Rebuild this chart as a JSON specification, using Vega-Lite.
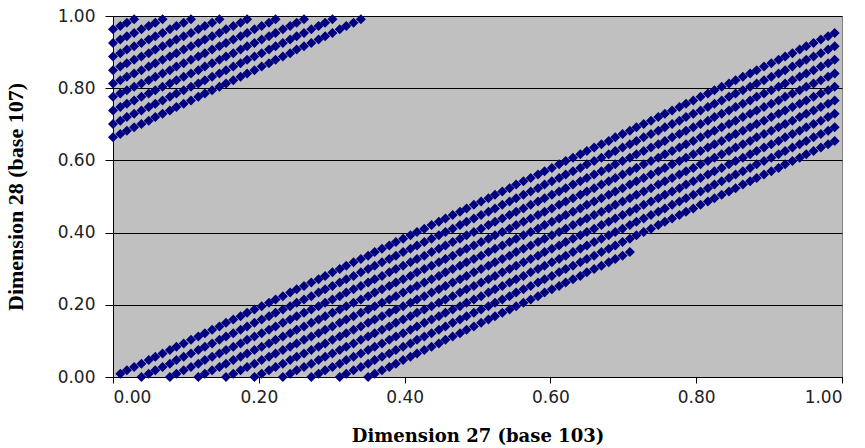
{
"$schema": "https://vega.github.io/schema/vega-lite/v6.json",
"width": 729,
"height": 361,
"autosize": {"type": "none"},
"padding": {"left": 113, "top": 16, "right": 23, "bottom": 71},
"background": "white",
"config": {"view": {"fill": "#C0C0C0", "stroke": "#808080", "strokeWidth": 1}},
"data": {"values": [
{"x":0.010,"y":0.009},{"x":0.019,"y":0.019},{"x":0.029,"y":0.028},{"x":0.039,"y":0.037},{"x":0.049,"y":0.047},{"x":0.058,"y":0.056},{"x":0.068,"y":0.065},{"x":0.078,"y":0.075},{"x":0.087,"y":0.084},{"x":0.097,"y":0.093},
{"x":0.107,"y":0.103},{"x":0.117,"y":0.112},{"x":0.126,"y":0.121},{"x":0.136,"y":0.131},{"x":0.146,"y":0.140},{"x":0.155,"y":0.150},{"x":0.165,"y":0.159},{"x":0.175,"y":0.168},{"x":0.184,"y":0.178},{"x":0.194,"y":0.187},
{"x":0.204,"y":0.196},{"x":0.214,"y":0.206},{"x":0.223,"y":0.215},{"x":0.233,"y":0.224},{"x":0.243,"y":0.234},{"x":0.252,"y":0.243},{"x":0.262,"y":0.252},{"x":0.272,"y":0.262},{"x":0.282,"y":0.271},{"x":0.291,"y":0.280},
{"x":0.301,"y":0.290},{"x":0.311,"y":0.299},{"x":0.320,"y":0.308},{"x":0.330,"y":0.318},{"x":0.340,"y":0.327},{"x":0.350,"y":0.336},{"x":0.359,"y":0.346},{"x":0.369,"y":0.355},{"x":0.379,"y":0.364},{"x":0.388,"y":0.374},
{"x":0.398,"y":0.383},{"x":0.408,"y":0.393},{"x":0.417,"y":0.402},{"x":0.427,"y":0.411},{"x":0.437,"y":0.421},{"x":0.447,"y":0.430},{"x":0.456,"y":0.439},{"x":0.466,"y":0.449},{"x":0.476,"y":0.458},{"x":0.485,"y":0.467},
{"x":0.495,"y":0.477},{"x":0.505,"y":0.486},{"x":0.515,"y":0.495},{"x":0.524,"y":0.505},{"x":0.534,"y":0.514},{"x":0.544,"y":0.523},{"x":0.553,"y":0.533},{"x":0.563,"y":0.542},{"x":0.573,"y":0.551},{"x":0.583,"y":0.561},
{"x":0.592,"y":0.570},{"x":0.602,"y":0.579},{"x":0.612,"y":0.589},{"x":0.621,"y":0.598},{"x":0.631,"y":0.607},{"x":0.641,"y":0.617},{"x":0.650,"y":0.626},{"x":0.660,"y":0.636},{"x":0.670,"y":0.645},{"x":0.680,"y":0.654},
{"x":0.689,"y":0.664},{"x":0.699,"y":0.673},{"x":0.709,"y":0.682},{"x":0.718,"y":0.692},{"x":0.728,"y":0.701},{"x":0.738,"y":0.710},{"x":0.748,"y":0.720},{"x":0.757,"y":0.729},{"x":0.767,"y":0.738},{"x":0.777,"y":0.748},
{"x":0.786,"y":0.757},{"x":0.796,"y":0.766},{"x":0.806,"y":0.776},{"x":0.816,"y":0.785},{"x":0.825,"y":0.794},{"x":0.835,"y":0.804},{"x":0.845,"y":0.813},{"x":0.854,"y":0.822},{"x":0.864,"y":0.832},{"x":0.874,"y":0.841},
{"x":0.883,"y":0.850},{"x":0.893,"y":0.860},{"x":0.903,"y":0.869},{"x":0.913,"y":0.879},{"x":0.922,"y":0.888},{"x":0.932,"y":0.897},{"x":0.942,"y":0.907},{"x":0.951,"y":0.916},{"x":0.961,"y":0.925},{"x":0.971,"y":0.935},
{"x":0.981,"y":0.944},{"x":0.990,"y":0.953},
{"x":0,"y":0.963},{"x":0.010,"y":0.972},{"x":0.019,"y":0.981},{"x":0.029,"y":0.991},
{"x":0.039,"y":0},{"x":0.049,"y":0.009},{"x":0.058,"y":0.019},{"x":0.068,"y":0.028},{"x":0.078,"y":0.037},{"x":0.087,"y":0.047},{"x":0.097,"y":0.056},{"x":0.107,"y":0.065},{"x":0.117,"y":0.075},{"x":0.126,"y":0.084},
{"x":0.136,"y":0.093},{"x":0.146,"y":0.103},{"x":0.155,"y":0.112},{"x":0.165,"y":0.121},{"x":0.175,"y":0.131},{"x":0.184,"y":0.140},{"x":0.194,"y":0.150},{"x":0.204,"y":0.159},{"x":0.214,"y":0.168},{"x":0.223,"y":0.178},
{"x":0.233,"y":0.187},{"x":0.243,"y":0.196},{"x":0.252,"y":0.206},{"x":0.262,"y":0.215},{"x":0.272,"y":0.224},{"x":0.282,"y":0.234},{"x":0.291,"y":0.243},{"x":0.301,"y":0.252},{"x":0.311,"y":0.262},{"x":0.320,"y":0.271},
{"x":0.330,"y":0.280},{"x":0.340,"y":0.290},{"x":0.350,"y":0.299},{"x":0.359,"y":0.308},{"x":0.369,"y":0.318},{"x":0.379,"y":0.327},{"x":0.388,"y":0.336},{"x":0.398,"y":0.346},{"x":0.408,"y":0.355},{"x":0.417,"y":0.364},
{"x":0.427,"y":0.374},{"x":0.437,"y":0.383},{"x":0.447,"y":0.393},{"x":0.456,"y":0.402},{"x":0.466,"y":0.411},{"x":0.476,"y":0.421},{"x":0.485,"y":0.430},{"x":0.495,"y":0.439},{"x":0.505,"y":0.449},{"x":0.515,"y":0.458},
{"x":0.524,"y":0.467},{"x":0.534,"y":0.477},{"x":0.544,"y":0.486},{"x":0.553,"y":0.495},{"x":0.563,"y":0.505},{"x":0.573,"y":0.514},{"x":0.583,"y":0.523},{"x":0.592,"y":0.533},{"x":0.602,"y":0.542},{"x":0.612,"y":0.551},
{"x":0.621,"y":0.561},{"x":0.631,"y":0.570},{"x":0.641,"y":0.579},{"x":0.650,"y":0.589},{"x":0.660,"y":0.598},{"x":0.670,"y":0.607},{"x":0.680,"y":0.617},{"x":0.689,"y":0.626},{"x":0.699,"y":0.636},{"x":0.709,"y":0.645},
{"x":0.718,"y":0.654},{"x":0.728,"y":0.664},{"x":0.738,"y":0.673},{"x":0.748,"y":0.682},{"x":0.757,"y":0.692},{"x":0.767,"y":0.701},{"x":0.777,"y":0.710},{"x":0.786,"y":0.720},{"x":0.796,"y":0.729},{"x":0.806,"y":0.738},
{"x":0.816,"y":0.748},{"x":0.825,"y":0.757},{"x":0.835,"y":0.766},{"x":0.845,"y":0.776},{"x":0.854,"y":0.785},{"x":0.864,"y":0.794},{"x":0.874,"y":0.804},{"x":0.883,"y":0.813},{"x":0.893,"y":0.822},{"x":0.903,"y":0.832},
{"x":0.913,"y":0.841},{"x":0.922,"y":0.850},{"x":0.932,"y":0.860},{"x":0.942,"y":0.869},{"x":0.951,"y":0.879},{"x":0.961,"y":0.888},{"x":0.971,"y":0.897},{"x":0.981,"y":0.907},{"x":0.990,"y":0.916},
{"x":0,"y":0.925},{"x":0.010,"y":0.935},{"x":0.019,"y":0.944},{"x":0.029,"y":0.953},{"x":0.039,"y":0.963},{"x":0.049,"y":0.972},{"x":0.058,"y":0.981},{"x":0.068,"y":0.991},
{"x":0.078,"y":0},{"x":0.087,"y":0.009},{"x":0.097,"y":0.019},{"x":0.107,"y":0.028},{"x":0.117,"y":0.037},{"x":0.126,"y":0.047},{"x":0.136,"y":0.056},{"x":0.146,"y":0.065},{"x":0.155,"y":0.075},{"x":0.165,"y":0.084},
{"x":0.175,"y":0.093},{"x":0.184,"y":0.103},{"x":0.194,"y":0.112},{"x":0.204,"y":0.121},{"x":0.214,"y":0.131},{"x":0.223,"y":0.140},{"x":0.233,"y":0.150},{"x":0.243,"y":0.159},{"x":0.252,"y":0.168},{"x":0.262,"y":0.178},
{"x":0.272,"y":0.187},{"x":0.282,"y":0.196},{"x":0.291,"y":0.206},{"x":0.301,"y":0.215},{"x":0.311,"y":0.224},{"x":0.320,"y":0.234},{"x":0.330,"y":0.243},{"x":0.340,"y":0.252},{"x":0.350,"y":0.262},{"x":0.359,"y":0.271},
{"x":0.369,"y":0.280},{"x":0.379,"y":0.290},{"x":0.388,"y":0.299},{"x":0.398,"y":0.308},{"x":0.408,"y":0.318},{"x":0.417,"y":0.327},{"x":0.427,"y":0.336},{"x":0.437,"y":0.346},{"x":0.447,"y":0.355},{"x":0.456,"y":0.364},
{"x":0.466,"y":0.374},{"x":0.476,"y":0.383},{"x":0.485,"y":0.393},{"x":0.495,"y":0.402},{"x":0.505,"y":0.411},{"x":0.515,"y":0.421},{"x":0.524,"y":0.430},{"x":0.534,"y":0.439},{"x":0.544,"y":0.449},{"x":0.553,"y":0.458},
{"x":0.563,"y":0.467},{"x":0.573,"y":0.477},{"x":0.583,"y":0.486},{"x":0.592,"y":0.495},{"x":0.602,"y":0.505},{"x":0.612,"y":0.514},{"x":0.621,"y":0.523},{"x":0.631,"y":0.533},{"x":0.641,"y":0.542},{"x":0.650,"y":0.551},
{"x":0.660,"y":0.561},{"x":0.670,"y":0.570},{"x":0.680,"y":0.579},{"x":0.689,"y":0.589},{"x":0.699,"y":0.598},{"x":0.709,"y":0.607},{"x":0.718,"y":0.617},{"x":0.728,"y":0.626},{"x":0.738,"y":0.636},{"x":0.748,"y":0.645},
{"x":0.757,"y":0.654},{"x":0.767,"y":0.664},{"x":0.777,"y":0.673},{"x":0.786,"y":0.682},{"x":0.796,"y":0.692},{"x":0.806,"y":0.701},{"x":0.816,"y":0.710},{"x":0.825,"y":0.720},{"x":0.835,"y":0.729},{"x":0.845,"y":0.738},
{"x":0.854,"y":0.748},{"x":0.864,"y":0.757},{"x":0.874,"y":0.766},{"x":0.883,"y":0.776},{"x":0.893,"y":0.785},{"x":0.903,"y":0.794},{"x":0.913,"y":0.804},{"x":0.922,"y":0.813},{"x":0.932,"y":0.822},{"x":0.942,"y":0.832},
{"x":0.951,"y":0.841},{"x":0.961,"y":0.850},{"x":0.971,"y":0.860},{"x":0.981,"y":0.869},{"x":0.990,"y":0.879},
{"x":0,"y":0.888},{"x":0.010,"y":0.897},{"x":0.019,"y":0.907},{"x":0.029,"y":0.916},{"x":0.039,"y":0.925},{"x":0.049,"y":0.935},{"x":0.058,"y":0.944},{"x":0.068,"y":0.953},{"x":0.078,"y":0.963},{"x":0.087,"y":0.972},{"x":0.097,"y":0.981},{"x":0.107,"y":0.991},
{"x":0.117,"y":0},{"x":0.126,"y":0.009},{"x":0.136,"y":0.019},{"x":0.146,"y":0.028},{"x":0.155,"y":0.037},{"x":0.165,"y":0.047},{"x":0.175,"y":0.056},{"x":0.184,"y":0.065},{"x":0.194,"y":0.075},{"x":0.204,"y":0.084},
{"x":0.214,"y":0.093},{"x":0.223,"y":0.103},{"x":0.233,"y":0.112},{"x":0.243,"y":0.121},{"x":0.252,"y":0.131},{"x":0.262,"y":0.140},{"x":0.272,"y":0.150},{"x":0.282,"y":0.159},{"x":0.291,"y":0.168},{"x":0.301,"y":0.178},
{"x":0.311,"y":0.187},{"x":0.320,"y":0.196},{"x":0.330,"y":0.206},{"x":0.340,"y":0.215},{"x":0.350,"y":0.224},{"x":0.359,"y":0.234},{"x":0.369,"y":0.243},{"x":0.379,"y":0.252},{"x":0.388,"y":0.262},{"x":0.398,"y":0.271},
{"x":0.408,"y":0.280},{"x":0.417,"y":0.290},{"x":0.427,"y":0.299},{"x":0.437,"y":0.308},{"x":0.447,"y":0.318},{"x":0.456,"y":0.327},{"x":0.466,"y":0.336},{"x":0.476,"y":0.346},{"x":0.485,"y":0.355},{"x":0.495,"y":0.364},
{"x":0.505,"y":0.374},{"x":0.515,"y":0.383},{"x":0.524,"y":0.393},{"x":0.534,"y":0.402},{"x":0.544,"y":0.411},{"x":0.553,"y":0.421},{"x":0.563,"y":0.430},{"x":0.573,"y":0.439},{"x":0.583,"y":0.449},{"x":0.592,"y":0.458},
{"x":0.602,"y":0.467},{"x":0.612,"y":0.477},{"x":0.621,"y":0.486},{"x":0.631,"y":0.495},{"x":0.641,"y":0.505},{"x":0.650,"y":0.514},{"x":0.660,"y":0.523},{"x":0.670,"y":0.533},{"x":0.680,"y":0.542},{"x":0.689,"y":0.551},
{"x":0.699,"y":0.561},{"x":0.709,"y":0.570},{"x":0.718,"y":0.579},{"x":0.728,"y":0.589},{"x":0.738,"y":0.598},{"x":0.748,"y":0.607},{"x":0.757,"y":0.617},{"x":0.767,"y":0.626},{"x":0.777,"y":0.636},{"x":0.786,"y":0.645},
{"x":0.796,"y":0.654},{"x":0.806,"y":0.664},{"x":0.816,"y":0.673},{"x":0.825,"y":0.682},{"x":0.835,"y":0.692},{"x":0.845,"y":0.701},{"x":0.854,"y":0.710},{"x":0.864,"y":0.720},{"x":0.874,"y":0.729},{"x":0.883,"y":0.738},
{"x":0.893,"y":0.748},{"x":0.903,"y":0.757},{"x":0.913,"y":0.766},{"x":0.922,"y":0.776},{"x":0.932,"y":0.785},{"x":0.942,"y":0.794},{"x":0.951,"y":0.804},{"x":0.961,"y":0.813},{"x":0.971,"y":0.822},{"x":0.981,"y":0.832},{"x":0.990,"y":0.841},
{"x":0,"y":0.850},{"x":0.010,"y":0.860},{"x":0.019,"y":0.869},{"x":0.029,"y":0.879},{"x":0.039,"y":0.888},{"x":0.049,"y":0.897},{"x":0.058,"y":0.907},{"x":0.068,"y":0.916},{"x":0.078,"y":0.925},{"x":0.087,"y":0.935},{"x":0.097,"y":0.944},{"x":0.107,"y":0.953},{"x":0.117,"y":0.963},{"x":0.126,"y":0.972},{"x":0.136,"y":0.981},{"x":0.146,"y":0.991},
{"x":0.155,"y":0},{"x":0.165,"y":0.009},{"x":0.175,"y":0.019},{"x":0.184,"y":0.028},{"x":0.194,"y":0.037},{"x":0.204,"y":0.047},{"x":0.214,"y":0.056},{"x":0.223,"y":0.065},{"x":0.233,"y":0.075},{"x":0.243,"y":0.084},
{"x":0.252,"y":0.093},{"x":0.262,"y":0.103},{"x":0.272,"y":0.112},{"x":0.282,"y":0.121},{"x":0.291,"y":0.131},{"x":0.301,"y":0.140},{"x":0.311,"y":0.150},{"x":0.320,"y":0.159},{"x":0.330,"y":0.168},{"x":0.340,"y":0.178},
{"x":0.350,"y":0.187},{"x":0.359,"y":0.196},{"x":0.369,"y":0.206},{"x":0.379,"y":0.215},{"x":0.388,"y":0.224},{"x":0.398,"y":0.234},{"x":0.408,"y":0.243},{"x":0.417,"y":0.252},{"x":0.427,"y":0.262},{"x":0.437,"y":0.271},
{"x":0.447,"y":0.280},{"x":0.456,"y":0.290},{"x":0.466,"y":0.299},{"x":0.476,"y":0.308},{"x":0.485,"y":0.318},{"x":0.495,"y":0.327},{"x":0.505,"y":0.336},{"x":0.515,"y":0.346},{"x":0.524,"y":0.355},{"x":0.534,"y":0.364},
{"x":0.544,"y":0.374},{"x":0.553,"y":0.383},{"x":0.563,"y":0.393},{"x":0.573,"y":0.402},{"x":0.583,"y":0.411},{"x":0.592,"y":0.421},{"x":0.602,"y":0.430},{"x":0.612,"y":0.439},{"x":0.621,"y":0.449},{"x":0.631,"y":0.458},
{"x":0.641,"y":0.467},{"x":0.650,"y":0.477},{"x":0.660,"y":0.486},{"x":0.670,"y":0.495},{"x":0.680,"y":0.505},{"x":0.689,"y":0.514},{"x":0.699,"y":0.523},{"x":0.709,"y":0.533},{"x":0.718,"y":0.542},{"x":0.728,"y":0.551},
{"x":0.738,"y":0.561},{"x":0.748,"y":0.570},{"x":0.757,"y":0.579},{"x":0.767,"y":0.589},{"x":0.777,"y":0.598},{"x":0.786,"y":0.607},{"x":0.796,"y":0.617},{"x":0.806,"y":0.626},{"x":0.816,"y":0.636},{"x":0.825,"y":0.645},
{"x":0.835,"y":0.654},{"x":0.845,"y":0.664},{"x":0.854,"y":0.673},{"x":0.864,"y":0.682},{"x":0.874,"y":0.692},{"x":0.883,"y":0.701},{"x":0.893,"y":0.710},{"x":0.903,"y":0.720},{"x":0.913,"y":0.729},{"x":0.922,"y":0.738},
{"x":0.932,"y":0.748},{"x":0.942,"y":0.757},{"x":0.951,"y":0.766},{"x":0.961,"y":0.776},{"x":0.971,"y":0.785},{"x":0.981,"y":0.794},{"x":0.990,"y":0.804},
{"x":0,"y":0.813},{"x":0.010,"y":0.822},{"x":0.019,"y":0.832},{"x":0.029,"y":0.841},{"x":0.039,"y":0.850},{"x":0.049,"y":0.860},{"x":0.058,"y":0.869},{"x":0.068,"y":0.879},{"x":0.078,"y":0.888},{"x":0.087,"y":0.897},{"x":0.097,"y":0.907},{"x":0.107,"y":0.916},{"x":0.117,"y":0.925},{"x":0.126,"y":0.935},{"x":0.136,"y":0.944},{"x":0.146,"y":0.953},{"x":0.155,"y":0.963},{"x":0.165,"y":0.972},{"x":0.175,"y":0.981},{"x":0.184,"y":0.991},
{"x":0.194,"y":0},{"x":0.204,"y":0.009},{"x":0.214,"y":0.019},{"x":0.223,"y":0.028},{"x":0.233,"y":0.037},{"x":0.243,"y":0.047},{"x":0.252,"y":0.056},{"x":0.262,"y":0.065},{"x":0.272,"y":0.075},{"x":0.282,"y":0.084},
{"x":0.291,"y":0.093},{"x":0.301,"y":0.103},{"x":0.311,"y":0.112},{"x":0.320,"y":0.121},{"x":0.330,"y":0.131},{"x":0.340,"y":0.140},{"x":0.350,"y":0.150},{"x":0.359,"y":0.159},{"x":0.369,"y":0.168},{"x":0.379,"y":0.178},
{"x":0.388,"y":0.187},{"x":0.398,"y":0.196},{"x":0.408,"y":0.206},{"x":0.417,"y":0.215},{"x":0.427,"y":0.224},{"x":0.437,"y":0.234},{"x":0.447,"y":0.243},{"x":0.456,"y":0.252},{"x":0.466,"y":0.262},{"x":0.476,"y":0.271},
{"x":0.485,"y":0.280},{"x":0.495,"y":0.290},{"x":0.505,"y":0.299},{"x":0.515,"y":0.308},{"x":0.524,"y":0.318},{"x":0.534,"y":0.327},{"x":0.544,"y":0.336},{"x":0.553,"y":0.346},{"x":0.563,"y":0.355},{"x":0.573,"y":0.364},
{"x":0.583,"y":0.374},{"x":0.592,"y":0.383},{"x":0.602,"y":0.393},{"x":0.612,"y":0.402},{"x":0.621,"y":0.411},{"x":0.631,"y":0.421},{"x":0.641,"y":0.430},{"x":0.650,"y":0.439},{"x":0.660,"y":0.449},{"x":0.670,"y":0.458},
{"x":0.680,"y":0.467},{"x":0.689,"y":0.477},{"x":0.699,"y":0.486},{"x":0.709,"y":0.495},{"x":0.718,"y":0.505},{"x":0.728,"y":0.514},{"x":0.738,"y":0.523},{"x":0.748,"y":0.533},{"x":0.757,"y":0.542},{"x":0.767,"y":0.551},
{"x":0.777,"y":0.561},{"x":0.786,"y":0.570},{"x":0.796,"y":0.579},{"x":0.806,"y":0.589},{"x":0.816,"y":0.598},{"x":0.825,"y":0.607},{"x":0.835,"y":0.617},{"x":0.845,"y":0.626},{"x":0.854,"y":0.636},{"x":0.864,"y":0.645},
{"x":0.874,"y":0.654},{"x":0.883,"y":0.664},{"x":0.893,"y":0.673},{"x":0.903,"y":0.682},{"x":0.913,"y":0.692},{"x":0.922,"y":0.701},{"x":0.932,"y":0.710},{"x":0.942,"y":0.720},{"x":0.951,"y":0.729},{"x":0.961,"y":0.738},
{"x":0.971,"y":0.748},{"x":0.981,"y":0.757},{"x":0.990,"y":0.766},
{"x":0,"y":0.776},{"x":0.010,"y":0.785},{"x":0.019,"y":0.794},{"x":0.029,"y":0.804},{"x":0.039,"y":0.813},{"x":0.049,"y":0.822},{"x":0.058,"y":0.832},{"x":0.068,"y":0.841},{"x":0.078,"y":0.850},{"x":0.087,"y":0.860},{"x":0.097,"y":0.869},{"x":0.107,"y":0.879},{"x":0.117,"y":0.888},{"x":0.126,"y":0.897},{"x":0.136,"y":0.907},{"x":0.146,"y":0.916},{"x":0.155,"y":0.925},{"x":0.165,"y":0.935},{"x":0.175,"y":0.944},{"x":0.184,"y":0.953},{"x":0.194,"y":0.963},{"x":0.204,"y":0.972},{"x":0.214,"y":0.981},{"x":0.223,"y":0.991},
{"x":0.233,"y":0},{"x":0.243,"y":0.009},{"x":0.252,"y":0.019},{"x":0.262,"y":0.028},{"x":0.272,"y":0.037},{"x":0.282,"y":0.047},{"x":0.291,"y":0.056},{"x":0.301,"y":0.065},{"x":0.311,"y":0.075},{"x":0.320,"y":0.084},
{"x":0.330,"y":0.093},{"x":0.340,"y":0.103},{"x":0.350,"y":0.112},{"x":0.359,"y":0.121},{"x":0.369,"y":0.131},{"x":0.379,"y":0.140},{"x":0.388,"y":0.150},{"x":0.398,"y":0.159},{"x":0.408,"y":0.168},{"x":0.417,"y":0.178},
{"x":0.427,"y":0.187},{"x":0.437,"y":0.196},{"x":0.447,"y":0.206},{"x":0.456,"y":0.215},{"x":0.466,"y":0.224},{"x":0.476,"y":0.234},{"x":0.485,"y":0.243},{"x":0.495,"y":0.252},{"x":0.505,"y":0.262},{"x":0.515,"y":0.271},
{"x":0.524,"y":0.280},{"x":0.534,"y":0.290},{"x":0.544,"y":0.299},{"x":0.553,"y":0.308},{"x":0.563,"y":0.318},{"x":0.573,"y":0.327},{"x":0.583,"y":0.336},{"x":0.592,"y":0.346},{"x":0.602,"y":0.355},{"x":0.612,"y":0.364},
{"x":0.621,"y":0.374},{"x":0.631,"y":0.383},{"x":0.641,"y":0.393},{"x":0.650,"y":0.402},{"x":0.660,"y":0.411},{"x":0.670,"y":0.421},{"x":0.680,"y":0.430},{"x":0.689,"y":0.439},{"x":0.699,"y":0.449},{"x":0.709,"y":0.458},
{"x":0.718,"y":0.467},{"x":0.728,"y":0.477},{"x":0.738,"y":0.486},{"x":0.748,"y":0.495},{"x":0.757,"y":0.505},{"x":0.767,"y":0.514},{"x":0.777,"y":0.523},{"x":0.786,"y":0.533},{"x":0.796,"y":0.542},{"x":0.806,"y":0.551},
{"x":0.816,"y":0.561},{"x":0.825,"y":0.570},{"x":0.835,"y":0.579},{"x":0.845,"y":0.589},{"x":0.854,"y":0.598},{"x":0.864,"y":0.607},{"x":0.874,"y":0.617},{"x":0.883,"y":0.626},{"x":0.893,"y":0.636},{"x":0.903,"y":0.645},
{"x":0.913,"y":0.654},{"x":0.922,"y":0.664},{"x":0.932,"y":0.673},{"x":0.942,"y":0.682},{"x":0.951,"y":0.692},{"x":0.961,"y":0.701},{"x":0.971,"y":0.710},{"x":0.981,"y":0.720},{"x":0.990,"y":0.729},
{"x":0,"y":0.738},{"x":0.010,"y":0.748},{"x":0.019,"y":0.757},{"x":0.029,"y":0.766},{"x":0.039,"y":0.776},{"x":0.049,"y":0.785},{"x":0.058,"y":0.794},{"x":0.068,"y":0.804},{"x":0.078,"y":0.813},{"x":0.087,"y":0.822},{"x":0.097,"y":0.832},{"x":0.107,"y":0.841},{"x":0.117,"y":0.850},{"x":0.126,"y":0.860},{"x":0.136,"y":0.869},{"x":0.146,"y":0.879},{"x":0.155,"y":0.888},{"x":0.165,"y":0.897},{"x":0.175,"y":0.907},{"x":0.184,"y":0.916},{"x":0.194,"y":0.925},{"x":0.204,"y":0.935},{"x":0.214,"y":0.944},{"x":0.223,"y":0.953},{"x":0.233,"y":0.963},{"x":0.243,"y":0.972},{"x":0.252,"y":0.981},{"x":0.262,"y":0.991},
{"x":0.272,"y":0},{"x":0.282,"y":0.009},{"x":0.291,"y":0.019},{"x":0.301,"y":0.028},{"x":0.311,"y":0.037},{"x":0.320,"y":0.047},{"x":0.330,"y":0.056},{"x":0.340,"y":0.065},{"x":0.350,"y":0.075},{"x":0.359,"y":0.084},
{"x":0.369,"y":0.093},{"x":0.379,"y":0.103},{"x":0.388,"y":0.112},{"x":0.398,"y":0.121},{"x":0.408,"y":0.131},{"x":0.417,"y":0.140},{"x":0.427,"y":0.150},{"x":0.437,"y":0.159},{"x":0.447,"y":0.168},{"x":0.456,"y":0.178},
{"x":0.466,"y":0.187},{"x":0.476,"y":0.196},{"x":0.485,"y":0.206},{"x":0.495,"y":0.215},{"x":0.505,"y":0.224},{"x":0.515,"y":0.234},{"x":0.524,"y":0.243},{"x":0.534,"y":0.252},{"x":0.544,"y":0.262},{"x":0.553,"y":0.271},
{"x":0.563,"y":0.280},{"x":0.573,"y":0.290},{"x":0.583,"y":0.299},{"x":0.592,"y":0.308},{"x":0.602,"y":0.318},{"x":0.612,"y":0.327},{"x":0.621,"y":0.336},{"x":0.631,"y":0.346},{"x":0.641,"y":0.355},{"x":0.650,"y":0.364},
{"x":0.660,"y":0.374},{"x":0.670,"y":0.383},{"x":0.680,"y":0.393},{"x":0.689,"y":0.402},{"x":0.699,"y":0.411},{"x":0.709,"y":0.421},{"x":0.718,"y":0.430},{"x":0.728,"y":0.439},{"x":0.738,"y":0.449},{"x":0.748,"y":0.458},
{"x":0.757,"y":0.467},{"x":0.767,"y":0.477},{"x":0.777,"y":0.486},{"x":0.786,"y":0.495},{"x":0.796,"y":0.505},{"x":0.806,"y":0.514},{"x":0.816,"y":0.523},{"x":0.825,"y":0.533},{"x":0.835,"y":0.542},{"x":0.845,"y":0.551},
{"x":0.854,"y":0.561},{"x":0.864,"y":0.570},{"x":0.874,"y":0.579},{"x":0.883,"y":0.589},{"x":0.893,"y":0.598},{"x":0.903,"y":0.607},{"x":0.913,"y":0.617},{"x":0.922,"y":0.626},{"x":0.932,"y":0.636},{"x":0.942,"y":0.645},
{"x":0.951,"y":0.654},{"x":0.961,"y":0.664},{"x":0.971,"y":0.673},{"x":0.981,"y":0.682},{"x":0.990,"y":0.692},
{"x":0,"y":0.701},{"x":0.010,"y":0.710},{"x":0.019,"y":0.720},{"x":0.029,"y":0.729},{"x":0.039,"y":0.738},{"x":0.049,"y":0.748},{"x":0.058,"y":0.757},{"x":0.068,"y":0.766},{"x":0.078,"y":0.776},{"x":0.087,"y":0.785},{"x":0.097,"y":0.794},{"x":0.107,"y":0.804},{"x":0.117,"y":0.813},{"x":0.126,"y":0.822},{"x":0.136,"y":0.832},{"x":0.146,"y":0.841},{"x":0.155,"y":0.850},{"x":0.165,"y":0.860},{"x":0.175,"y":0.869},{"x":0.184,"y":0.879},{"x":0.194,"y":0.888},{"x":0.204,"y":0.897},{"x":0.214,"y":0.907},{"x":0.223,"y":0.916},{"x":0.233,"y":0.925},{"x":0.243,"y":0.935},{"x":0.252,"y":0.944},{"x":0.262,"y":0.953},{"x":0.272,"y":0.963},{"x":0.282,"y":0.972},{"x":0.291,"y":0.981},{"x":0.301,"y":0.991},
{"x":0.311,"y":0},{"x":0.320,"y":0.009},{"x":0.330,"y":0.019},{"x":0.340,"y":0.028},{"x":0.350,"y":0.037},{"x":0.359,"y":0.047},{"x":0.369,"y":0.056},{"x":0.379,"y":0.065},{"x":0.388,"y":0.075},{"x":0.398,"y":0.084},
{"x":0.408,"y":0.093},{"x":0.417,"y":0.103},{"x":0.427,"y":0.112},{"x":0.437,"y":0.121},{"x":0.447,"y":0.131},{"x":0.456,"y":0.140},{"x":0.466,"y":0.150},{"x":0.476,"y":0.159},{"x":0.485,"y":0.168},{"x":0.495,"y":0.178},
{"x":0.505,"y":0.187},{"x":0.515,"y":0.196},{"x":0.524,"y":0.206},{"x":0.534,"y":0.215},{"x":0.544,"y":0.224},{"x":0.553,"y":0.234},{"x":0.563,"y":0.243},{"x":0.573,"y":0.252},{"x":0.583,"y":0.262},{"x":0.592,"y":0.271},
{"x":0.602,"y":0.280},{"x":0.612,"y":0.290},{"x":0.621,"y":0.299},{"x":0.631,"y":0.308},{"x":0.641,"y":0.318},{"x":0.650,"y":0.327},{"x":0.660,"y":0.336},{"x":0.670,"y":0.346},{"x":0.680,"y":0.355},{"x":0.689,"y":0.364},
{"x":0.699,"y":0.374},{"x":0.709,"y":0.383},{"x":0.718,"y":0.393},{"x":0.728,"y":0.402},{"x":0.738,"y":0.411},{"x":0.748,"y":0.421},{"x":0.757,"y":0.430},{"x":0.767,"y":0.439},{"x":0.777,"y":0.449},{"x":0.786,"y":0.458},
{"x":0.796,"y":0.467},{"x":0.806,"y":0.477},{"x":0.816,"y":0.486},{"x":0.825,"y":0.495},{"x":0.835,"y":0.505},{"x":0.845,"y":0.514},{"x":0.854,"y":0.523},{"x":0.864,"y":0.533},{"x":0.874,"y":0.542},{"x":0.883,"y":0.551},
{"x":0.893,"y":0.561},{"x":0.903,"y":0.570},{"x":0.913,"y":0.579},{"x":0.922,"y":0.589},{"x":0.932,"y":0.598},{"x":0.942,"y":0.607},{"x":0.951,"y":0.617},{"x":0.961,"y":0.626},{"x":0.971,"y":0.636},{"x":0.981,"y":0.645},{"x":0.990,"y":0.654},
{"x":0,"y":0.664},{"x":0.010,"y":0.673},{"x":0.019,"y":0.682},{"x":0.029,"y":0.692},{"x":0.039,"y":0.701},{"x":0.049,"y":0.710},{"x":0.058,"y":0.720},{"x":0.068,"y":0.729},{"x":0.078,"y":0.738},{"x":0.087,"y":0.748},{"x":0.097,"y":0.757},{"x":0.107,"y":0.766},{"x":0.117,"y":0.776},{"x":0.126,"y":0.785},{"x":0.136,"y":0.794},{"x":0.146,"y":0.804},{"x":0.155,"y":0.813},{"x":0.165,"y":0.822},{"x":0.175,"y":0.832},{"x":0.184,"y":0.841},{"x":0.194,"y":0.850},{"x":0.204,"y":0.860},{"x":0.214,"y":0.869},{"x":0.223,"y":0.879},{"x":0.233,"y":0.888},{"x":0.243,"y":0.897},{"x":0.252,"y":0.907},{"x":0.262,"y":0.916},{"x":0.272,"y":0.925},{"x":0.282,"y":0.935},{"x":0.291,"y":0.944},{"x":0.301,"y":0.953},{"x":0.311,"y":0.963},{"x":0.320,"y":0.972},{"x":0.330,"y":0.981},{"x":0.340,"y":0.991},
{"x":0.350,"y":0},{"x":0.359,"y":0.009},{"x":0.369,"y":0.019},{"x":0.379,"y":0.028},{"x":0.388,"y":0.037},{"x":0.398,"y":0.047},{"x":0.408,"y":0.056},{"x":0.417,"y":0.065},{"x":0.427,"y":0.075},{"x":0.437,"y":0.084},
{"x":0.447,"y":0.093},{"x":0.456,"y":0.103},{"x":0.466,"y":0.112},{"x":0.476,"y":0.121},{"x":0.485,"y":0.131},{"x":0.495,"y":0.140},{"x":0.505,"y":0.150},{"x":0.515,"y":0.159},{"x":0.524,"y":0.168},{"x":0.534,"y":0.178},
{"x":0.544,"y":0.187},{"x":0.553,"y":0.196},{"x":0.563,"y":0.206},{"x":0.573,"y":0.215},{"x":0.583,"y":0.224},{"x":0.592,"y":0.234},{"x":0.602,"y":0.243},{"x":0.612,"y":0.252},{"x":0.621,"y":0.262},{"x":0.631,"y":0.271},
{"x":0.641,"y":0.280},{"x":0.650,"y":0.290},{"x":0.660,"y":0.299},{"x":0.670,"y":0.308},{"x":0.680,"y":0.318},{"x":0.689,"y":0.327},{"x":0.699,"y":0.336},{"x":0.709,"y":0.346}
]},
"mark": {"type": "point", "shape": "diamond", "filled": true, "color": "#000080", "size": 100, "opacity": 1},
"encoding": {
"x": {"field": "x", "type": "quantitative", "scale": {"domain": [0, 1], "nice": false, "zero": false},
"axis": {"title": "Dimension 27 (base 103)", "values": [0, 0.2, 0.4, 0.6, 0.8, 1], "format": ".2f", "grid": false, "domainColor": "#000000", "domainWidth": 1, "tickColor": "#000000", "tickSize": 6, "labelFont": "DejaVu Sans", "labelFontSize": 17, "labelColor": "#222222", "labelPadding": 6, "titleFont": "DejaVu Serif", "titleFontSize": 18, "titleFontWeight": "bold", "titleColor": "#000000", "titlePadding": 22}},
"y": {"field": "y", "type": "quantitative", "scale": {"domain": [0, 1], "nice": false, "zero": false},
"axis": {"title": "Dimension 28 (base 107)", "values": [0, 0.2, 0.4, 0.6, 0.8, 1], "format": ".2f", "grid": true, "gridColor": "#000000", "gridWidth": 1, "gridOpacity": 1, "domainColor": "#000000", "domainWidth": 1, "tickColor": "#000000", "tickSize": 8, "labelFont": "DejaVu Sans", "labelFontSize": 17, "labelColor": "#222222", "labelPadding": 10, "titleFont": "Liberation Serif", "titleFontSize": 22, "titleFontWeight": "bold", "titleColor": "#000000", "titlePadding": 30}}
}
}
